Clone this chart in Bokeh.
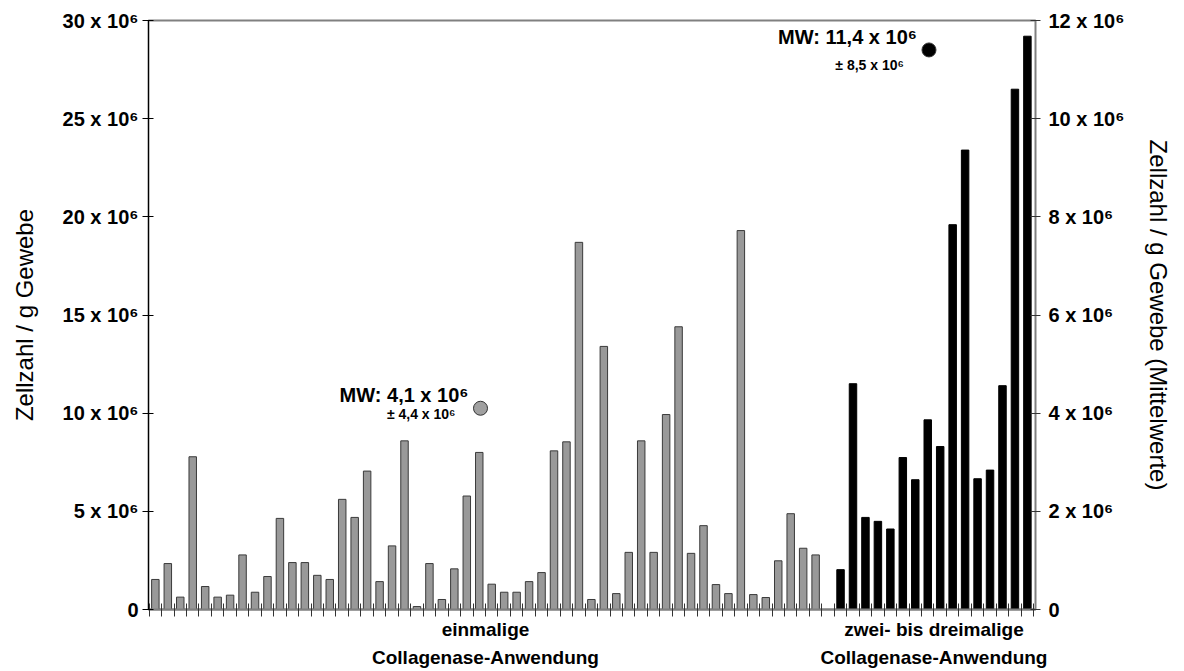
from bokeh.plotting import figure
from bokeh.models import Range1d, LinearAxis, FixedTicker, Label
from bokeh.embed import file_html
from bokeh.resources import INLINE

# ---- data (values in 10^6 cells / g tissue) ----
grey_values = [1.53, 2.34, 0.63, 7.78, 1.17, 0.63, 0.73, 2.78, 0.88, 1.68,
               4.64, 2.39, 2.39, 1.74, 1.53, 5.61, 4.69, 7.05, 1.42, 3.24,
               8.59, 0.15, 2.34, 0.51, 2.07, 5.78, 8.00, 1.29, 0.88, 0.88,
               1.42, 1.88, 8.08, 8.54, 18.7, 0.51, 13.4, 0.81, 2.91, 8.59,
               2.91, 9.93, 14.4, 2.86, 4.27, 1.27, 0.81, 19.3, 0.76, 0.61,
               2.48, 4.88, 3.12, 2.78]
black_values = [2.03, 11.5, 4.69, 4.49, 4.10, 7.74, 6.61, 9.66, 8.30, 19.6,
                23.4, 6.66, 7.10, 11.4, 26.5, 29.2]
group_labels = ["einmalige\nCollagenase-Anwendung",
                "zwei- bis dreimalige\nCollagenase-Anwendung"]
means = [4.1, 11.4]
sds = [4.4, 8.5]
left_ticks = [0, 5, 10, 15, 20, 25, 30]
right_ticks = [0, 2, 4, 6, 8, 10, 12]

SUP6 = "\u2076"
FONT = "Liberation Sans"


def sci(v):
    return "0" if v == 0 else f"{v} x 10{SUP6}"


def de(v):
    return f"{v:.1f}".replace(".", ",")


x_grey = list(range(len(grey_values)))
x_black = [len(grey_values) + 1 + i for i in range(len(black_values))]
n_slots = x_black[-1] + 1
centers = [sum(x_grey) / len(x_grey), sum(x_black) / len(x_black)]

p = figure(width=1180, height=670,
           x_range=Range1d(-0.55, x_black[-1] + 0.65),
           y_range=Range1d(0, 30),
           output_backend="svg", toolbar_location=None,
           min_border_left=148, min_border_right=145,
           min_border_top=20, min_border_bottom=60)
p.extra_y_ranges = {"right": Range1d(0, 12)}
p.grid.visible = False
p.background_fill_color = "white"
p.border_fill_color = "white"
p.outline_line_color = "#808080"
p.outline_line_width = 2

p.vbar(x=x_grey, top=grey_values, width=0.6, fill_color="#999999",
       line_color="#3a3a3a", line_width=1)
p.vbar(x=x_black, top=black_values, width=0.6, fill_color="black",
       line_color="black", line_width=1)

# ---- x axis ----
xa = p.xaxis[0]
xa.ticker = FixedTicker(ticks=centers,
                        minor_ticks=[i - 0.5 for i in range(n_slots + 1)])
xa.major_label_overrides = {c: lab for c, lab in zip(centers, group_labels)}
xa.major_tick_in = 0
xa.major_tick_out = 0
xa.minor_tick_in = 6
xa.minor_tick_out = 7
xa.minor_tick_line_color = "#333333"
xa.minor_tick_line_width = 1
xa.axis_line_color = "#808080"
xa.axis_line_width = 2
xa.major_label_text_font = FONT
xa.major_label_text_font_style = "bold"
xa.major_label_text_font_size = "19px"
xa.major_label_text_color = "black"
xa.major_label_text_line_height = 1.35
xa.major_label_standoff = 2

# ---- left axis ----
ya = p.yaxis[0]
ya.ticker = FixedTicker(ticks=left_ticks)
ya.major_label_overrides = {t: sci(t) for t in left_ticks}
ya.minor_tick_line_color = None
ya.major_tick_in = 5
ya.major_tick_out = 6
ya.major_tick_line_color = "black"
ya.axis_line_color = "black"
ya.axis_line_width = 1
ya.major_label_text_font = FONT
ya.major_label_text_font_style = "bold"
ya.major_label_text_font_size = "20px"
ya.major_label_text_color = "black"
ya.major_label_standoff = 4
ya.axis_label = "Zellzahl / g Gewebe"
ya.axis_label_text_font = FONT
ya.axis_label_text_font_style = "normal"
ya.axis_label_text_font_size = "24px"
ya.axis_label_text_color = "black"
ya.axis_label_standoff = 22

# ---- right axis ----
ra = LinearAxis(y_range_name="right", ticker=FixedTicker(ticks=right_ticks))
ra.major_label_overrides = {t: sci(t) for t in right_ticks}
ra.minor_tick_line_color = None
ra.major_tick_in = 5
ra.major_tick_out = 5
ra.major_tick_line_color = "#333333"
ra.axis_line_color = "#808080"
ra.axis_line_width = 1
ra.major_label_text_font = FONT
ra.major_label_text_font_style = "bold"
ra.major_label_text_font_size = "20px"
ra.major_label_text_color = "black"
ra.major_label_standoff = 8
ra.axis_label = "Zellzahl / g Gewebe (Mittelwerte)"
ra.axis_label_text_font = FONT
ra.axis_label_text_font_style = "normal"
ra.axis_label_text_font_size = "24px"
ra.axis_label_text_color = "black"
ra.axis_label_standoff = 18
p.add_layout(ra, "right")

# ---- mean markers and labels ----
mw_x = [c - 0.4 for c in centers]
p.scatter(x=mw_x, y=means, y_range_name="right", size=14,
          fill_color=["#a0a0a0", "black"], line_color="#333333", line_width=1)

sd_offsets = [-6, -15]
for xm, m, s, sdo in zip(mw_x, means, sds, sd_offsets):
    p.add_layout(Label(x=xm, y=m, y_range_name="right",
                       text=f"MW: {de(m)} x 10{SUP6}",
                       x_offset=-12, y_offset=13,
                       text_align="right", text_baseline="middle",
                       text_font=FONT, text_font_style="bold",
                       text_font_size="20px", text_color="black"))
    p.add_layout(Label(x=xm, y=m, y_range_name="right",
                       text=f"\u00b1 {de(s)} x 10{SUP6}",
                       x_offset=-25, y_offset=sdo,
                       text_align="right", text_baseline="middle",
                       text_font=FONT, text_font_style="bold",
                       text_font_size="14px", text_color="black"))

open("out.html", "w").write(file_html(p, INLINE))
